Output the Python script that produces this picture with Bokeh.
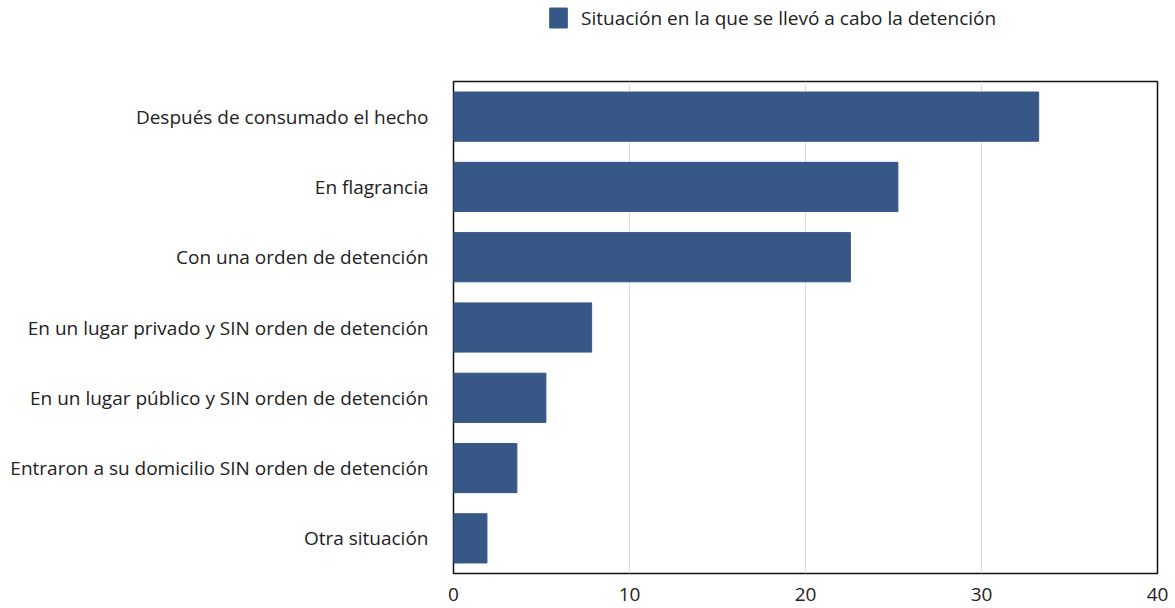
from bokeh.plotting import figure
from bokeh.layouts import column
from bokeh.models import Legend, LegendItem, Range1d, FixedTicker
from bokeh.embed import file_html
from bokeh.resources import INLINE

categories = [
    "Después de consumado el hecho",
    "En flagrancia",
    "Con una orden de detención",
    "En un lugar privado y SIN orden de detención",
    "En un lugar público y SIN orden de detención",
    "Entraron a su domicilio SIN orden de detención",
    "Otra situación",
]
values = [33.25, 25.25, 22.55, 7.85, 5.25, 3.6, 1.9]
series_name = "Situación en la que se llevó a cabo la detención"
x_ticks = [0, 10, 20, 30, 40]

FONT = "Open Sans"
TXT = "#222222"
BAR = "#375786"

# Legend strip on top
top = figure(width=1175, height=50, x_range=Range1d(0, 1), y_range=Range1d(0, 1),
             output_backend="svg", toolbar_location=None,
             min_border=0, outline_line_color=None)
top.axis.visible = False
top.grid.visible = False
dummy = top.hbar(y=[-5], right=[-4], left=-5, height=0.5, fill_color=BAR, line_color=BAR)
legend = Legend(items=[LegendItem(label=series_name, renderers=[dummy])],
                location=(94, 19.5), orientation="horizontal",
                glyph_width=22, glyph_height=25, label_standoff=12,
                label_height=25,
                label_text_font=FONT, label_text_font_size="19px",
                label_text_color=TXT, border_line_color=None,
                background_fill_alpha=0, padding=0, margin=0)
top.add_layout(legend, "center")

p = figure(width=1175, height=558, y_range=list(reversed(categories)),
           x_range=Range1d(0, 40), output_backend="svg", toolbar_location=None,
           min_border_left=453, min_border_right=18, min_border_top=31,
           min_border_bottom=35)

p.hbar(y=categories, right=values, left=0, height=0.7,
       fill_color=BAR, line_color=BAR)

p.xaxis.ticker = FixedTicker(ticks=x_ticks)
p.xgrid.grid_line_color = "#dddddd"
p.ygrid.grid_line_color = None
p.outline_line_color = "#111111"
p.outline_line_width = 1.5
for ax in (p.xaxis, p.yaxis):
    ax.axis_line_color = None
    ax.major_tick_line_color = None
    ax.minor_tick_line_color = None
    ax.major_label_text_font = FONT
    ax.major_label_text_color = TXT
p.yaxis.major_label_text_font_size = "19px"
p.xaxis.major_label_text_font_size = "19px"
p.yaxis.major_label_standoff = 19
p.xaxis.major_label_standoff = 8
p.y_range.range_padding = 0

layout = column(top, p, spacing=0)
open("out.html", "w").write(file_html(layout, INLINE))
